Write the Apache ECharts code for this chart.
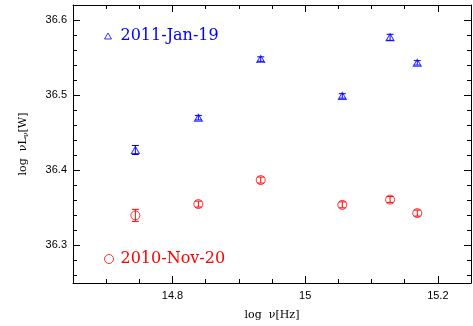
<!DOCTYPE html>
<html>
<head>
<meta charset="utf-8">
<script src="https://cdn.jsdelivr.net/npm/echarts@6/dist/echarts.min.js"></script>
<style>
  html, body { margin: 0; padding: 0; background: #fff; }
  #chart { width: 473px; height: 326px; }
</style>
</head>
<body>
<div id="chart"></div>
<script>
// log nu [Hz] of each band
const logNu = [14.744, 14.839, 14.933, 15.056, 15.128, 15.169];
// 2011-Jan-19
const janY = [36.427, 36.470, 36.548, 36.499, 36.577, 36.543];
const janErr = [0.006, 0.003, 0.003, 0.003, 0.004, 0.003];
// 2010-Nov-20
const novY = [36.340, 36.355, 36.387, 36.354, 36.361, 36.343];
const novErr = [0.008, 0.004, 0.004, 0.004, 0.004, 0.004];

const xMajor = [14.8, 15.0, 15.2];
const xMinor = [14.65, 14.7, 14.75, 14.85, 14.9, 14.95, 15.05, 15.1, 15.15, 15.25];
const yMajor = [36.3, 36.4, 36.5, 36.6];
const yMinor = [36.26, 36.28, 36.32, 36.34, 36.36, 36.38, 36.42, 36.44, 36.46, 36.48,
  36.52, 36.54, 36.56, 36.58, 36.62];

const serif = 'DejaVu Serif';
const sans = 'Liberation Sans';

const myChart = echarts.init(document.getElementById('chart'));

const pts = (ys) => logNu.map((x, i) => [x, ys[i]]);
const errPts = (ys, es) => logNu.map((x, i) => [x, ys[i], es[i]]);

function errBar(color) {
  return function (params, api) {
    const x = api.value(0), y = api.value(1), e = api.value(2);
    const lo = api.coord([x, y - e]);
    const hi = api.coord([x, y + e]);
    const w = 3.5;
    const st = { stroke: color, lineWidth: 1 };
    return {
      type: 'group',
      children: [
        { type: 'line', shape: { x1: lo[0], y1: lo[1], x2: hi[0], y2: hi[1] }, style: st },
        { type: 'line', shape: { x1: lo[0] - w, y1: lo[1], x2: lo[0] + w, y2: lo[1] }, style: st },
        { type: 'line', shape: { x1: hi[0] - w, y1: hi[1], x2: hi[0] + w, y2: hi[1] }, style: st },
      ],
    };
  };
}

const line = { show: true, lineStyle: { color: '#000', width: 1 } };
const majorTick = (vals) => ({ show: true, inside: true, length: 7, customValues: vals, lineStyle: { color: '#000' } });
const minorTick = (vals) => ({ show: true, inside: true, length: 4, customValues: vals, lineStyle: { color: '#000' } });
const xBase = { type: 'value', min: 14.65, max: 15.25, splitLine: { show: false } };
const yBase = { type: 'value', min: 36.25, max: 36.62, splitLine: { show: false } };

const option = {
  animation: false,
  backgroundColor: '#fff',
  grid: { left: 73, top: 5, right: 2, bottom: 39 },
  legend: [
    {
      data: ['2011-Jan-19'],
      left: 102, top: 28,
      padding: 0,
      itemWidth: 7, itemHeight: 6,
      itemStyle: { borderWidth: 1 },
      textStyle: { color: '#0000ff', fontFamily: serif, fontSize: 16, padding: [0, 0, 0, 4] },
      selectedMode: false,
    },
    {
      data: ['2010-Nov-20'],
      left: 102, top: 251,
      padding: 0,
      itemWidth: 9, itemHeight: 9,
      itemStyle: { borderWidth: 1 },
      textStyle: { color: '#ff0000', fontFamily: serif, fontSize: 16, padding: [0, 0, 0, 2] },
      selectedMode: false,
    },
  ],
  xAxis: [
    Object.assign({}, xBase, {
      position: 'bottom',
      axisLine: line,
      axisTick: majorTick(xMajor),
      axisLabel: { customValues: xMajor, color: '#000', fontFamily: sans, fontSize: 11, margin: 7,
        formatter: (v) => String(Math.round(v * 10) / 10) },
      name: 'log  ν[Hz]',
      nameLocation: 'middle',
      nameGap: 27,
      nameTextStyle: { color: '#000', fontFamily: serif, fontSize: 11 },
    }),
    Object.assign({}, xBase, {
      position: 'bottom',
      axisLine: { show: false },
      axisTick: minorTick(xMinor),
      axisLabel: { show: false },
    }),
    Object.assign({}, xBase, {
      position: 'top',
      axisLine: line,
      axisTick: majorTick(xMajor),
      axisLabel: { show: false },
    }),
    Object.assign({}, xBase, {
      position: 'top',
      axisLine: { show: false },
      axisTick: minorTick(xMinor),
      axisLabel: { show: false },
    }),
  ],
  yAxis: [
    Object.assign({}, yBase, {
      position: 'left',
      axisLine: line,
      axisTick: majorTick(yMajor),
      axisLabel: { customValues: yMajor, color: '#000', fontFamily: sans, fontSize: 11, margin: 6,
        formatter: (v) => v.toFixed(1) },
      name: '{a|log  νL}{s|ν}{a|[W]}',
      nameLocation: 'middle',
      nameGap: 43,
      nameTextStyle: {
        color: '#000',
        rich: {
          a: { fontFamily: serif, fontSize: 11, color: '#000' },
          s: { fontFamily: serif, fontSize: 8, color: '#000', padding: [6, 0, 0, 0] },
        },
      },
    }),
    Object.assign({}, yBase, {
      position: 'left',
      axisLine: { show: false },
      axisTick: minorTick(yMinor),
      axisLabel: { show: false },
    }),
    Object.assign({}, yBase, {
      position: 'right',
      axisLine: line,
      axisTick: majorTick(yMajor),
      axisLabel: { show: false },
    }),
    Object.assign({}, yBase, {
      position: 'right',
      axisLine: { show: false },
      axisTick: minorTick(yMinor),
      axisLabel: { show: false },
    }),
  ],
  series: [
    {
      name: '2011-Jan-19',
      type: 'scatter',
      symbol: 'triangle',
      symbolSize: [8, 7],
      itemStyle: { color: 'none', borderColor: '#0000ff', borderWidth: 1 },
      data: pts(janY),
    },
    {
      name: '2010-Nov-20',
      type: 'scatter',
      symbol: 'circle',
      symbolSize: 9,
      itemStyle: { color: 'none', borderColor: '#ff0000', borderWidth: 1 },
      data: pts(novY),
    },
    {
      type: 'custom',
      renderItem: errBar('#0000ff'),
      data: errPts(janY, janErr),
      z: 3,
    },
    {
      type: 'custom',
      renderItem: errBar('#ff0000'),
      data: errPts(novY, novErr),
      z: 3,
    },
  ],
};

option && myChart.setOption(option);
</script>
</body>
</html>
